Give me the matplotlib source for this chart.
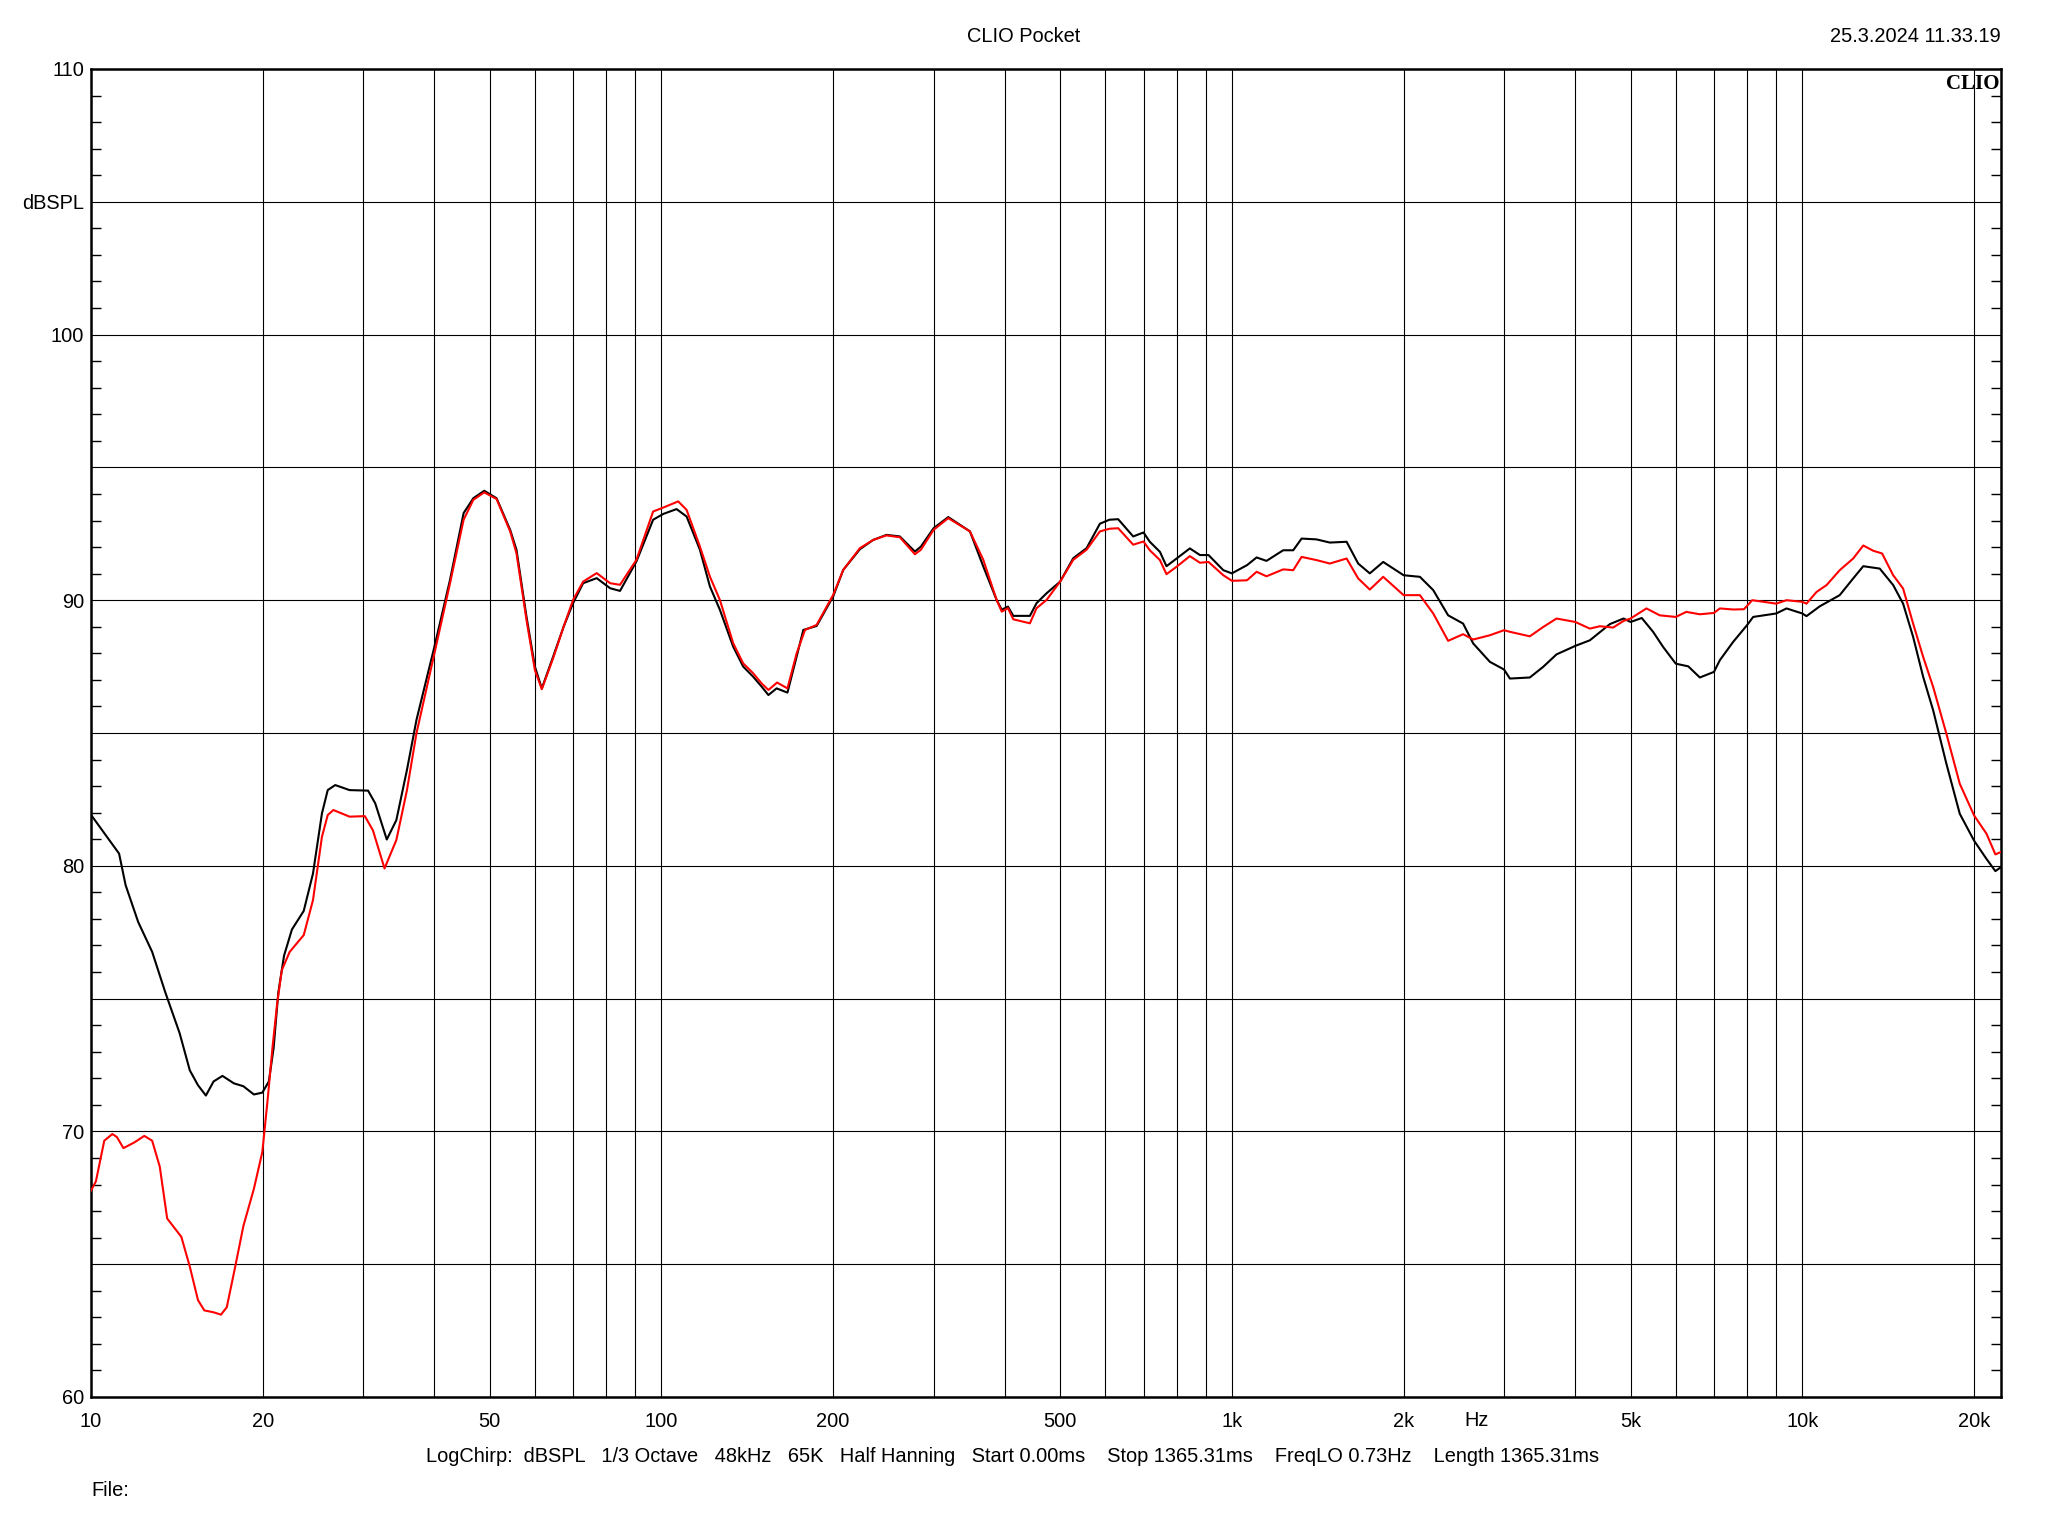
# CLIO Pocket frequency response, two measurements (black / red)

import numpy as np
import matplotlib
matplotlib.use('Agg')
import matplotlib.pyplot as plt
from matplotlib.ticker import FixedLocator, FixedFormatter, MultipleLocator

# black trace
freq_black = [10, 10.55, 11.2, 11.5, 12.1, 12.8, 13.5, 14.3, 14.9, 15.4, 15.9, 16.4, 17.0, 17.8, 18.5, 19.3,
              19.97, 20.5, 20.9, 21.3, 21.8, 22.5, 23.6, 24.5, 25.4, 26.0, 26.8, 28.4, 30.6, 31.5, 33.0,
              34.3, 35.8, 37.2, 40, 42.6, 45.0, 46.8, 48.9, 51.4, 54.3, 55.7, 58.0, 60, 61.7, 64.6, 67.4,
              70, 72.9, 77.0, 81.3, 84.6, 90.4, 96.7, 100.8, 106.3, 110.7, 116.8, 121.6, 126.6, 133.6,
              139.1, 144.8, 149.8, 154, 159.2, 166.3, 172.6, 177.3, 187.1, 200, 208.3, 222.8, 235.1, 248.1,
              261.8, 278.2, 285, 300, 318.3, 347.4, 366.6, 386.9, 395, 405, 413.8, 442.5, 454.6, 473.3,
              500, 527.1, 556.3, 587, 610, 631.9, 671.4, 700, 718, 748, 768, 800, 844, 879, 910, 966,
              1000, 1063, 1105, 1150, 1230, 1281, 1325, 1407, 1485, 1589, 1665, 1745, 1842, 2000, 2136,
              2254, 2394, 2543, 2649, 2833, 3000, 3072, 3329, 3513, 3708, 4000, 4242, 4599, 4860, 5000,
              5230, 5475, 5702, 6000, 6310, 6612, 7000, 7168, 7564, 8000, 8200, 9000, 9383, 10000, 10170,
              10730, 11630, 12280, 12790, 13670, 14430, 15020, 15640, 16290, 16960, 17890, 18880, 20000,
              21030, 21800, 22300]
spl_black = [81.92, 81.23, 80.46, 79.27, 77.88, 76.76, 75.23, 73.70, 72.30, 71.74, 71.35, 71.88, 72.09, 71.81,
             71.70, 71.39, 71.46, 71.88, 73.14, 75.23, 76.62, 77.60, 78.30, 79.71, 81.97, 82.85, 83.04, 82.85,
             82.83, 82.35, 80.99, 81.72, 83.61, 85.49, 88.25, 90.77, 93.28, 93.84, 94.12, 93.84, 92.65, 91.90,
             89.38, 87.50, 86.68, 87.88, 89.01, 89.89, 90.64, 90.83, 90.45, 90.35, 91.46, 93.03, 93.25, 93.43,
             93.15, 91.90, 90.52, 89.64, 88.25, 87.50, 87.12, 86.75, 86.43, 86.68, 86.52, 87.88, 88.88, 89.03,
             90.14, 91.14, 91.92, 92.27, 92.46, 92.40, 91.83, 92.02, 92.71, 93.13, 92.59, 91.27, 90.01, 89.64,
             89.76, 89.41, 89.41, 89.89, 90.26, 90.70, 91.58, 91.96, 92.88, 93.03, 93.05, 92.40, 92.55, 92.20,
             91.82, 91.28, 91.57, 91.95, 91.70, 91.70, 91.13, 91.01, 91.32, 91.61, 91.48, 91.88, 91.88, 92.32,
             92.29, 92.17, 92.20, 91.38, 91.01, 91.44, 90.94, 90.88, 90.38, 89.43, 89.12, 88.37, 87.68, 87.39,
             87.05, 87.09, 87.49, 87.96, 88.28, 88.49, 89.10, 89.31, 89.18, 89.33, 88.81, 88.24, 87.61, 87.51,
             87.09, 87.30, 87.74, 88.43, 89.06, 89.37, 89.50, 89.69, 89.50, 89.40, 89.77, 90.19, 90.82, 91.28,
             91.19, 90.57, 89.87, 88.62, 87.11, 85.85, 83.84, 81.96, 80.95, 80.26, 79.80, 79.95]

# red trace
freq_red = [10, 10.2, 10.55, 10.9, 11.1, 11.4, 11.9, 12.4, 12.8, 13.2, 13.6, 14.4, 14.9, 15.4, 15.8, 16.4,
            16.9, 17.3, 17.9, 18.5, 19.3, 19.97, 20.4, 20.8, 21.2, 21.6, 22.3, 23.6, 24.5, 25.4, 26.0, 26.6,
            28.4, 30.2, 31.2, 32.7, 34.3, 35.8, 37.2, 40, 42.6, 45, 46.8, 48.9, 51.4, 54.3, 55.7, 58.0, 60,
            61.7, 64.6, 67.4, 70, 72.9, 77.0, 81.3, 84.6, 90.4, 96.7, 100.8, 107, 110.7, 116.8, 121.6, 126.6,
            133.6, 139.1, 144.8, 149.8, 154, 159.5, 166.3, 172.6, 178.5, 187.1, 200, 208.3, 222.8, 235.1,
            248.1, 261.8, 278.2, 285, 300, 318.3, 347.4, 366.6, 386.9, 395, 405, 413.8, 442.5, 454.6, 473.3,
            500, 527.1, 556.3, 587, 610, 631.9, 671.4, 700, 718, 748, 768, 800, 844, 879, 910, 966, 1000,
            1063, 1105, 1150, 1230, 1281, 1325, 1407, 1485, 1589, 1665, 1745, 1842, 2000, 2136, 2254, 2394,
            2543, 2649, 2833, 3000, 3072, 3329, 3513, 3708, 4000, 4242, 4416, 4660, 4860, 5000, 5330, 5625,
            6000, 6260, 6612, 7000, 7168, 7564, 7900, 8170, 9000, 9383, 10000, 10170, 10590, 11030, 11630,
            12280, 12790, 13320, 13800, 14430, 15020, 15640, 16290, 16960, 17890, 18880, 20000, 21030, 21800,
            22300]
spl_red = [67.77, 68.12, 69.65, 69.90, 69.79, 69.37, 69.58, 69.83, 69.65, 68.67, 66.72, 66.03, 64.91, 63.65,
           63.26, 63.19, 63.10, 63.38, 64.91, 66.44, 67.84, 69.23, 71.19, 73.14, 74.81, 76.07, 76.76, 77.39,
           78.71, 81.09, 81.91, 82.10, 81.85, 81.87, 81.34, 79.90, 80.97, 82.85, 84.99, 88.00, 90.64, 93.03,
           93.78, 94.06, 93.81, 92.59, 91.77, 89.26, 87.37, 86.65, 87.82, 89.01, 90.01, 90.70, 91.02, 90.64,
           90.58, 91.52, 93.34, 93.49, 93.72, 93.40, 92.02, 90.89, 90.01, 88.38, 87.62, 87.25, 86.87, 86.62,
           86.90, 86.68, 88.00, 88.88, 89.07, 90.20, 91.14, 91.96, 92.27, 92.44, 92.37, 91.73, 91.90, 92.65,
           93.09, 92.59, 91.52, 90.01, 89.57, 89.70, 89.28, 89.13, 89.70, 90.01, 90.70, 91.52, 91.90, 92.59,
           92.69, 92.71, 92.09, 92.21, 91.88, 91.51, 90.98, 91.26, 91.66, 91.41, 91.44, 90.94, 90.73, 90.75,
           91.07, 90.90, 91.16, 91.13, 91.63, 91.51, 91.38, 91.57, 90.82, 90.40, 90.88, 90.19, 90.19, 89.50,
           88.47, 88.72, 88.52, 88.68, 88.87, 88.81, 88.64, 88.99, 89.31, 89.18, 88.93, 89.02, 88.97, 89.22,
           89.31, 89.69, 89.43, 89.37, 89.56, 89.47, 89.52, 89.69, 89.65, 89.66, 90.00, 89.87, 90.00, 89.94,
           89.87, 90.31, 90.57, 91.13, 91.57, 92.06, 91.86, 91.76, 90.94, 90.44, 89.12, 87.86, 86.73, 84.97,
           83.09, 81.90, 81.21, 80.43, 80.52]

x_ticks = [10, 20, 50, 100, 200, 500, 1000, 2000, 5000, 10000, 20000]
x_labels = ['10', '20', '50', '100', '200', '500', '1k', '2k', '5k', '10k', '20k']
y_labels = {60: '60', 70: '70', 80: '80', 90: '90', 100: '100', 105: 'dBSPL', 110: '110'}

plt.rcParams['font.family'] = ['Liberation Sans', 'DejaVu Sans']
FS = 14.4

fig = plt.figure(figsize=(20.48, 15.36), dpi=100)
ax = fig.add_axes([91 / 2048, 1 - 1397 / 1536, 1910 / 2048, 1328 / 1536])

ax.semilogx(freq_black, spl_black, color='black', lw=1.5, zorder=3)
ax.semilogx(freq_red, spl_red, color='#ff0000', lw=1.5, zorder=4)

ax.set_xlim(10, 22300)
ax.set_ylim(60, 110)

# vertical grid at every 1..9 step of each decade
grid_f = [m * 10 ** d for d in range(1, 5) for m in range(1, 10)]
grid_f = [g for g in grid_f if 10 <= g < 22300]
ax.xaxis.set_major_locator(FixedLocator(grid_f))
ax.xaxis.set_major_formatter(FixedFormatter(
    [x_labels[x_ticks.index(g)] if g in x_ticks else '' for g in grid_f]))
ax.xaxis.set_minor_locator(FixedLocator([]))
ax.tick_params(axis='x', which='major', length=0, pad=10.5, labelsize=FS)

ax.yaxis.set_major_locator(FixedLocator(list(range(60, 111, 5))))
ax.yaxis.set_major_formatter(FixedFormatter([y_labels.get(v, '') for v in range(60, 111, 5)]))
ax.yaxis.set_minor_locator(MultipleLocator(1))
ax.tick_params(axis='y', which='major', length=0, pad=5, labelsize=FS)
ax.tick_params(axis='y', which='minor', direction='in', length=7, width=1,
               left=True, right=True)

ax.grid(True, which='major', color='black', lw=0.8)
for s in ax.spines.values():
    s.set_linewidth(1.8)

ax.text(0.999, 0.996, 'CLIO', transform=ax.transAxes, ha='right', va='top',
        fontsize=15, fontweight='bold', family='Liberation Serif')

fig.text(1477 / 2048, 1 - 1420 / 1536, 'Hz', ha='center', va='center', fontsize=FS)
fig.text(1024 / 2048, 1 - 36 / 1536, 'CLIO Pocket', ha='center', va='center', fontsize=FS)
fig.text(2001 / 2048, 1 - 36 / 1536, '25.3.2024 11.33.19', ha='right', va='center', fontsize=FS)
fig.text(426 / 2048, 1 - 1457 / 1536,
         'LogChirp:  dBSPL   1/3 Octave   48kHz   65K   Half Hanning   Start 0.00ms    '
         'Stop 1365.31ms    FreqLO 0.73Hz    Length 1365.31ms',
         ha='left', va='center', fontsize=FS)
fig.text(91 / 2048, 1 - 1491 / 1536, 'File:', ha='left', va='center', fontsize=FS)

plt.savefig('out.png', dpi=100)
